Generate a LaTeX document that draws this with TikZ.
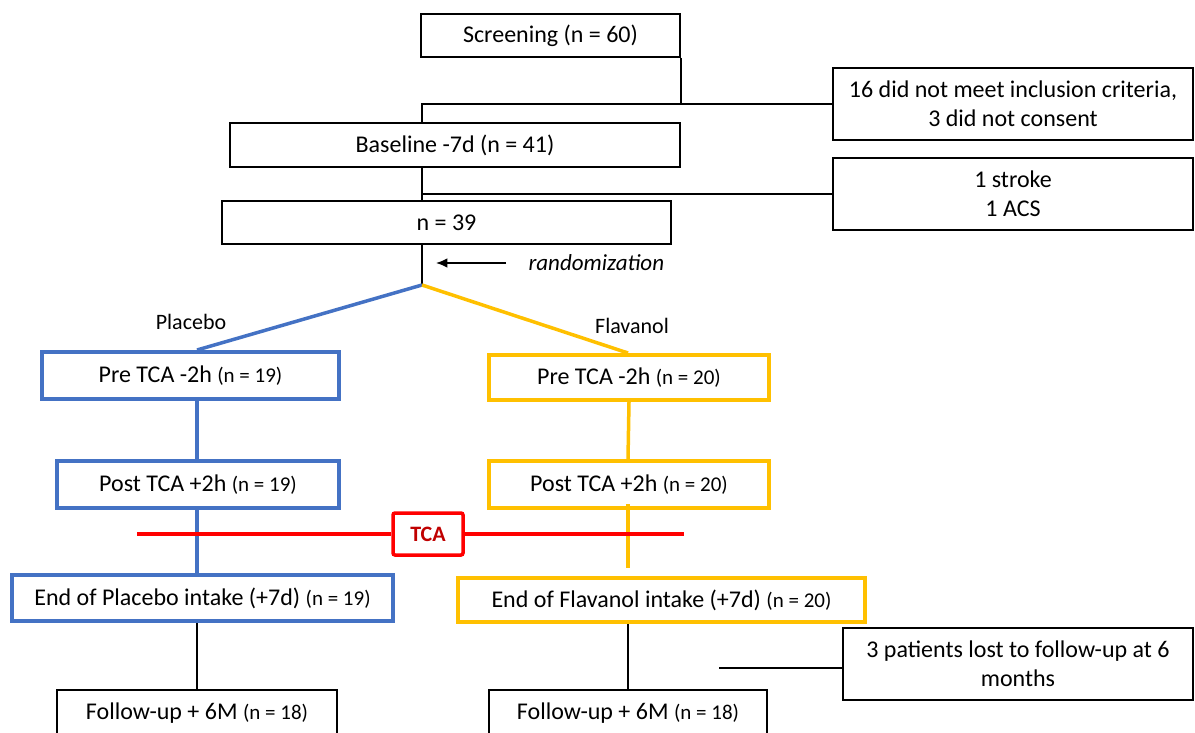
\documentclass[tikz,border=0pt]{standalone}
\usepackage{fontspec}
\setmainfont{Carlito}
\usepackage{xcolor}
\usetikzlibrary{arrows.meta, positioning}

\definecolor{plblue}{RGB}{68,114,196}
\definecolor{fvyellow}{RGB}{255,192,0}
\definecolor{tcared}{RGB}{255,0,0}
\definecolor{tcatext}{RGB}{192,0,0}

\newcommand{\ncount}[1]{{\fontsize{21}{24}\selectfont(n = #1)}}

\begin{document}
\begin{tikzpicture}[
    x=1pt, y=-1pt,
    font=\fontsize{24}{29}\selectfont,
    block/.style={
        rectangle,
        draw=black,
        line width=1.6pt,
        align=center,
        inner sep=0pt,
        fill=white
    },
    pbox/.style={block, draw=plblue, line width=4pt},
    fbox/.style={block, draw=fvyellow, line width=4pt},
    line/.style={line width=1.8pt},
    pline/.style={line width=3.5pt, draw=plblue},
    fline/.style={line width=3.5pt, draw=fvyellow},
    redline/.style={line width=3.5pt, draw=tcared},
    arrow/.style={-{Latex[length=4mm, width=3.4mm]}, line width=1.8pt}
]
\useasboundingbox (0,0) rectangle (1195,733);

% columns
\coordinate (split) at (422,285);
\coordinate (pcol) at (197,0);
\coordinate (fcol) at (628,0);

\node[block, minimum width=259pt, minimum height=43pt] (screen) at (550.5,35.5) {Screening (n = 60)};
\node[block, minimum width=360pt, minimum height=72pt] (excl1) at (1013,104) {16 did not meet inclusion criteria,\\3 did not consent};
\node[block, minimum width=450pt, minimum height=44pt] (base) at (455,145) {Baseline -7d (n = 41)};
\node[block, minimum width=360pt, minimum height=72pt] (excl2) at (1013,194) {1 stroke\\1 ACS};
\node[block, minimum width=449pt, minimum height=43pt] (rando) at (446.5,222.5) {n = 39};

\node[anchor=west, font=\fontsize{23}{27}\selectfont\itshape] (randlabel) at (525,263) {randomization};
\coordinate (randtip) at (436,263);

\node[font=\fontsize{22}{26}\selectfont] (plabel) at (191,322) {Placebo};
\node[font=\fontsize{22}{26}\selectfont] (flabel) at (632,326) {Flavanol};

\node[pbox, minimum width=297pt, minimum height=47pt] (prep) at (190.5,375.5) {Pre TCA -2h \ncount{19}};
\node[fbox, minimum width=280pt, minimum height=45pt] (pref) at (629,377.5) {Pre TCA -2h \ncount{20}};
\node[pbox, minimum width=282pt, minimum height=47pt] (postp) at (198,484.5) {Post TCA +2h \ncount{19}};
\node[fbox, minimum width=280pt, minimum height=47pt] (postf) at (629,484.5) {Post TCA +2h \ncount{20}};

\node[pbox, minimum width=381pt, minimum height=46pt] (endp) at (202.5,598) {End of Placebo intake (+7d) \ncount{19}};
\node[fbox, minimum width=407pt, minimum height=44pt] (endf) at (661.5,600) {End of Flavanol intake (+7d) \ncount{20}};

\node[block, minimum width=280pt, minimum height=46pt] (fupp) at (197,713) {Follow-up + 6M \ncount{18}};
\node[block, minimum width=278pt, minimum height=46pt] (fupf) at (628,713) {Follow-up + 6M \ncount{18}};
\node[block, minimum width=350pt, minimum height=72pt] (lost) at (1018,664) {3 patients lost to follow-up at 6\\months};
\coordinate (lostend) at (719,668);

% exclusions
\draw[line] (screen.south east) -- (screen.south east |- excl1.west);
\draw[line] (base.north -| split) |- (excl1.west);
\draw[line] (base.south -| split) -- (rando.north -| split);
\draw[line] (split |- excl2.west) -- (excl2.west);

% randomization
\draw[line] (rando.south -| split) -- (split);
\draw[arrow, shorten <=19pt] (randlabel.west) -- (randtip);
\draw[pline] (split) -- (prep.north -| pcol);
\draw[fline] (split) -- (pref.north -| fcol);

% arms
\draw[pline] (prep.south -| pcol) -- (postp.north -| pcol);
\draw[pline] (postp.south -| pcol) -- (endp.north -| pcol);
\draw[fline] (pref.south) -- (postf.north -| fcol);
\draw[fline, shorten <=-6pt, shorten >=8pt] (postf.south -| fcol) -- (endf.north -| fcol);

% intervention
\coordinate (tcaleft) at (137,534);
\coordinate (tcaright) at (684,534);
\node[block, draw=tcared, line width=3.5pt, rounded corners=2pt, minimum width=70pt, minimum height=42pt, text=tcatext, font=\fontsize{22}{26}\selectfont\bfseries] (tca) at (428,534) {TCA};
\draw[redline] (tcaleft) -- (tca.west);
\draw[redline] (tca.east) -- (tcaright);

% follow-up
\draw[line] (endp.south -| pcol) -- (fupp.north -| pcol);
\draw[line] (endf.south -| fcol) -- (fupf.north -| fcol);
\draw[line] (lostend) -- (lostend -| lost.west);

\end{tikzpicture}
\end{document}
